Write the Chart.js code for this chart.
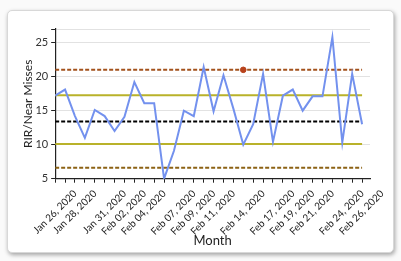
<!DOCTYPE html>
<html>
<head>
<meta charset="utf-8">
<script src="https://cdn.jsdelivr.net/npm/chart.js@4"></script>
<style>
  html, body { margin: 0; padding: 0; background: #fafafa; }
  #card {
    position: absolute; left: 7px; top: 10px; width: 385px; height: 241px;
    background: #fff; border: 1px solid #d8d8d8; border-radius: 5px;
    box-shadow: 1px 2px 4px rgba(0,0,0,0.35);
  }
  #wrap { position: absolute; left: 0; top: 0; width: 401px; height: 261px; }
</style>
</head>
<body>
<div id="card"></div>
<div id="wrap"><canvas id="myChart" width="401" height="261"></canvas></div>
<script>
const days = [
    'Jan 26, 2020', 'Jan 27, 2020', 'Jan 28, 2020', 'Jan 29, 2020', 'Jan 30, 2020', 'Jan 31, 2020',
    'Feb 01, 2020', 'Feb 02, 2020', 'Feb 03, 2020', 'Feb 04, 2020', 'Feb 05, 2020', 'Feb 06, 2020',
    'Feb 07, 2020', 'Feb 08, 2020', 'Feb 09, 2020', 'Feb 10, 2020', 'Feb 11, 2020', 'Feb 12, 2020',
    'Feb 13, 2020', 'Feb 14, 2020', 'Feb 15, 2020', 'Feb 16, 2020', 'Feb 17, 2020', 'Feb 18, 2020',
    'Feb 19, 2020', 'Feb 20, 2020', 'Feb 21, 2020', 'Feb 22, 2020', 'Feb 23, 2020', 'Feb 24, 2020',
    'Feb 25, 2020', 'Feb 26, 2020'
];

// only these dates get a label on the axis
const shownDays = [
    'Jan 26, 2020', 'Jan 28, 2020', 'Jan 31, 2020', 'Feb 02, 2020', 'Feb 04, 2020', 'Feb 07, 2020',
    'Feb 09, 2020', 'Feb 11, 2020', 'Feb 14, 2020', 'Feb 17, 2020', 'Feb 19, 2020', 'Feb 21, 2020',
    'Feb 24, 2020', 'Feb 26, 2020'
];

const rir = [17.2, 18.1, 14.2, 11, 15.1, 14.2, 12, 14.1, 19.2, 16.1, 16.1, 5,
             9.1, 15, 14.2, 21.4, 14.9, 20.2, 15.3, 10, 13, 20.4, 10.4, 17.2,
             18.1, 15, 17.1, 17.1, 25.8, 10.3, 20.4, 13];

const ucl = 21.0;
const lcl = 6.6;
const upperWarn = 17.25;
const lowerWarn = 10.1;
const mean = 13.4;

// flagged point
const flagIndex = [19];
const flagValue = [21.0];

const yTicks = [5, 10, 15, 20, 25];

function flatLine(v) {
    return days.map((d, i) => ({x: i, y: v}));
}

const ctx = document.getElementById('myChart').getContext('2d');
const chartCfg = {
    type: 'line',
    data: {
        datasets: [
            {
                data: flagIndex.map((x, i) => ({x: x, y: flagValue[i]})),
                showLine: false,
                pointRadius: 2.8,
                pointBackgroundColor: '#b8421c',
                pointBorderColor: '#b8421c',
                order: 0
            },
            {
                data: rir.map((v, i) => ({x: i, y: v})),
                borderColor: '#7391ee',
                borderWidth: 2,
                pointRadius: 0,
                tension: 0,
                order: 1
            },
            {
                data: flatLine(ucl),
                borderColor: '#a3521c',
                borderWidth: 2,
                borderDash: [4, 2],
                pointRadius: 0,
                order: 2
            },
            {
                data: flatLine(lcl),
                borderColor: '#8c6214',
                borderWidth: 2,
                borderDash: [4, 2],
                pointRadius: 0,
                order: 2
            },
            {
                data: flatLine(upperWarn),
                borderColor: '#b9b22a',
                borderWidth: 2,
                pointRadius: 0,
                order: 2
            },
            {
                data: flatLine(lowerWarn),
                borderColor: '#b9b22a',
                borderWidth: 2,
                pointRadius: 0,
                order: 2
            },
            {
                data: flatLine(mean),
                borderColor: '#000',
                borderWidth: 2,
                borderDash: [4, 2],
                pointRadius: 0,
                order: 2
            }
        ]
    },
    options: {
        responsive: false,
        animation: false,
        layout: {
            padding: {left: 21, right: 31, top: 29, bottom: 12}
        },
        plugins: {
            legend: {display: false},
            tooltip: {enabled: false}
        },
        scales: {
            x: {
                type: 'linear',
                min: 0,
                max: 31.8,
                afterBuildTicks: (s) => {
                    s.ticks = days.map((d, i) => ({value: i}));
                },
                border: {color: '#222', width: 1.2},
                grid: {
                    drawOnChartArea: false,
                    tickColor: '#222',
                    tickLength: 4
                },
                ticks: {
                    autoSkip: false,
                    maxRotation: 45,
                    minRotation: 45,
                    padding: 5,
                    labelOffset: 20,
                    color: '#222',
                    font: {family: 'Lato', size: 10},
                    callback: (v) => shownDays.includes(days[v]) ? days[v] : ''
                },
                title: {
                    display: true,
                    text: 'Month',
                    color: '#222',
                    font: {family: 'Lato', size: 13},
                    padding: {top: -9, bottom: 0}
                }
            },
            y: {
                min: 5,
                max: 27,
                afterBuildTicks: (s) => {
                    s.ticks = yTicks.concat([27]).map(v => ({value: v}));
                },
                border: {color: '#222', width: 1.2},
                grid: {
                    color: '#e2e2e2',
                    tickColor: '#222',
                    tickLength: 4
                },
                ticks: {
                    color: '#333',
                    padding: 3,
                    font: {family: 'Lato', size: 11},
                    callback: (v) => yTicks.includes(v) ? v : ''
                },
                title: {
                    display: true,
                    text: 'RIR/Near Misses',
                    color: '#222',
                    font: {family: 'Lato', size: 12},
                    padding: {top: 0, bottom: -3}
                }
            }
        }
    }
};

const myChart = new Chart(ctx, chartCfg);
</script>
</body>
</html>
